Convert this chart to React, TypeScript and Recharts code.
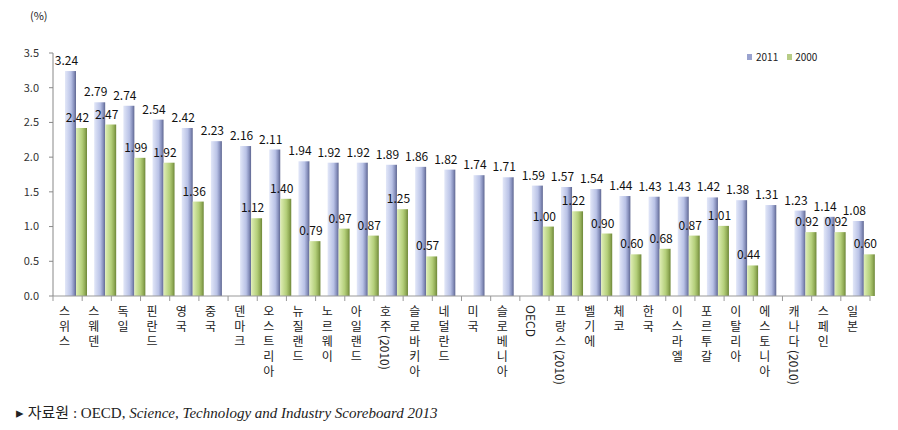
import { BarChart, Bar, XAxis, YAxis, LabelList, Legend } from 'recharts';

// 국가별 R&D 인력/투자 비율 (%), 2011 vs 2000
const countries = [
  '스위스', '스웨덴', '독일', '핀란드', '영국', '중국', '덴마크', '오스트리아', '뉴질랜드', '노르웨이',
  '아일랜드', '호주(2010)', '슬로바키아', '네덜란드', '미국', '슬로베니아', 'OECD', '프랑스(2010)', '벨기에', '체코',
  '한국', '이스라엘', '포르투갈', '이탈리아', '에스토니아', '캐나다(2010)', '스페인', '일본',
];
const values2011 = [
  3.24, 2.79, 2.74, 2.54, 2.42, 2.23, 2.16, 2.11, 1.94, 1.92,
  1.92, 1.89, 1.86, 1.82, 1.74, 1.71, 1.59, 1.57, 1.54, 1.44,
  1.43, 1.43, 1.42, 1.38, 1.31, 1.23, 1.14, 1.08,
];
const values2000 = [
  2.42, 2.47, 1.99, 1.92, 1.36, null, 1.12, 1.40, 0.79, 0.97,
  0.87, 1.25, 0.57, null, null, null, 1.00, 1.22, 0.90, 0.60,
  0.68, 0.87, 1.01, 0.44, null, 0.92, 0.92, 0.60,
];
const yTicks = [0, 0.5, 1.0, 1.5, 2.0, 2.5, 3.0, 3.5];

const data = countries.map((name, i) => ({ name, y2011: values2011[i], y2000: values2000[i] }));

const W = 898;
const H = 430;
const PLOT_LEFT = 53;
const PLOT_RIGHT = 870;
const HALF_BAND = (PLOT_RIGHT - PLOT_LEFT) / countries.length / 2;
const BAR_SHIFT = 8; // fake 3D depth offset

const labelFont = '"Noto Sans CJK KR", "DejaVu Sans", sans-serif';

// split label into hangul chars and latin runs
const splitRuns = (label: string) => {
  const runs: { text: string; latin: boolean }[] = [];
  for (const ch of label) {
    const latin = /[A-Za-z0-9()]/.test(ch);
    const last = runs[runs.length - 1];
    if (latin && last && last.latin) last.text += ch;
    else runs.push({ text: ch, latin });
  }
  return runs;
};

// vertical category label (hangul upright, latin runs sideways)
const CategoryTick = (props: any) => {
  const { x, y, payload, index } = props;
  const runs = splitRuns(payload.value);
  return (
    <g>
      {index === 0 && <line x1={x - HALF_BAND} y1={y} x2={x - HALF_BAND} y2={y + 5} stroke="#999" />}
      <line x1={x + HALF_BAND} y1={y} x2={x + HALF_BAND} y2={y + 5} stroke="#999" />
      <text
        x={x - 3}
        y={y + 9}
        fontSize={12}
        fill="#222"
        fontFamily={labelFont}
        style={{ writingMode: 'vertical-rl' }}
      >
        {runs.map((r, k) => (
          <tspan key={k} style={{ letterSpacing: r.latin ? 0 : 3 }}>{r.text}</tspan>
        ))}
      </text>
    </g>
  );
};

const makeShape = (fill: string) => (p: any) => {
  if (p.height == null || p.height <= 0) return <g />;
  return <rect x={p.x + BAR_SHIFT} y={p.y} width={p.width} height={p.height} fill={fill} />;
};

const ValueLabel = (p: any) => {
  if (p.value == null) return null;
  return (
    <text x={p.x + p.width / 2 + 4} y={p.y - 6} textAnchor="middle" fontSize={12} fill="#111" fontFamily={labelFont}>
      {Number(p.value).toFixed(2)}
    </text>
  );
};

const LegendBox = () => (
  <div style={{ display: 'flex', alignItems: 'center', fontSize: 10, fontFamily: labelFont, color: '#222' }}>
    <span style={{ display: 'inline-block', width: 5, height: 6, background: '#9aa3cf', marginRight: 4 }} />
    <span style={{ marginRight: 9 }}>2011</span>
    <span style={{ display: 'inline-block', width: 5, height: 6, background: '#b7cc86', marginRight: 3 }} />
    <span>2000</span>
  </div>
);

export default function App() {
  return (
    <div style={{ position: 'absolute', left: 0, top: 0, width: W, height: H, background: '#fff' }}>
      <div style={{ position: 'absolute', left: 30, top: 7, fontSize: 11, fontFamily: labelFont, color: '#222' }}>(%)</div>
      <BarChart width={W} height={H} data={data} margin={{ top: 38, right: W - PLOT_RIGHT, bottom: 34, left: 13 }} barGap={0} barCategoryGap={0}>
        <defs>
          <linearGradient id="g2011" x1="0" y1="0" x2="1" y2="0">
            <stop offset="0%" stopColor="#e2e7f8" />
            <stop offset="55%" stopColor="#b9c2e6" />
            <stop offset="80%" stopColor="#8a93bf" />
            <stop offset="100%" stopColor="#5f6791" />
          </linearGradient>
          <linearGradient id="g2000" x1="0" y1="0" x2="1" y2="0">
            <stop offset="0%" stopColor="#dfeeb6" />
            <stop offset="55%" stopColor="#b4cf7a" />
            <stop offset="80%" stopColor="#93ad58" />
            <stop offset="100%" stopColor="#6d8738" />
          </linearGradient>
        </defs>
        <XAxis
          dataKey="name"
          interval={0}
          height={100}
          tickSize={0}
          tickMargin={0}
          tickLine={false}
          axisLine={{ stroke: '#999' }}
          tick={<CategoryTick />}
        />
        <YAxis
          domain={[0, 3.5]}
          ticks={yTicks}
          width={40}
          tickSize={4}
          tickMargin={10}
          axisLine={{ stroke: '#888' }}
          tickLine={{ stroke: '#888' }}
          tickFormatter={(v: number) => v.toFixed(1)}
          tick={{ fontSize: 11, fill: '#333', fontFamily: labelFont }}
        />
        <Legend verticalAlign="top" content={<LegendBox />} wrapperStyle={{ top: 49, left: 747, width: 90 }} />
        <Bar dataKey="y2011" name="2011" barSize={11} shape={makeShape('url(#g2011)')} isAnimationActive={false}>
          <LabelList dataKey="y2011" content={<ValueLabel />} />
        </Bar>
        <Bar dataKey="y2000" name="2000" barSize={11} shape={makeShape('url(#g2000)')} isAnimationActive={false}>
          <LabelList dataKey="y2000" content={<ValueLabel />} />
        </Bar>
      </BarChart>
      <div style={{ position: 'absolute', left: 16, top: 401, fontSize: 15, fontFamily: '"Liberation Serif", "Noto Sans CJK KR", serif', color: '#222', whiteSpace: 'nowrap' }}>
        ▸ 자료원 : OECD, <i>Science, Technology and Industry Scoreboard 2013</i>
      </div>
    </div>
  );
}
